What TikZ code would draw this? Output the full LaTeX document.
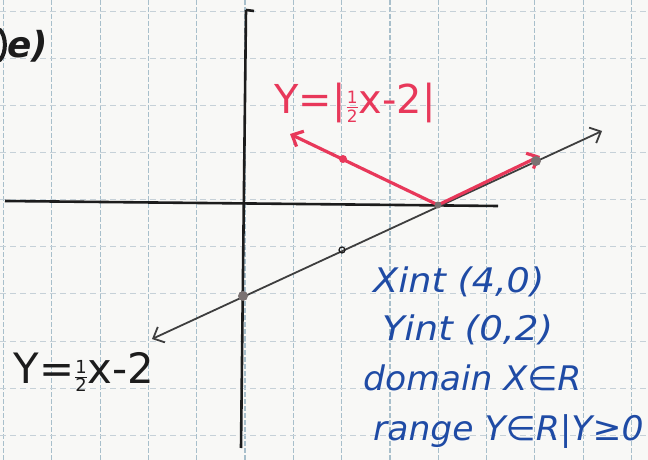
\documentclass[tikz,border=0pt]{standalone}
\usepackage{fontspec}
\setmainfont{DejaVu Sans}
\usetikzlibrary{arrows.meta}
\definecolor{ink}{HTML}{1C1C1C}
\definecolor{redink}{HTML}{E8385A}
\definecolor{blueink}{HTML}{1F4BA5}
\definecolor{gridv}{HTML}{A8BFCB}
\definecolor{gridh}{HTML}{C6D1D8}
\definecolor{paper}{HTML}{F8F8F6}
\definecolor{dotgray}{HTML}{7A7272}
\newcommand\myhalf[1]{$\frac{\mbox{\fontsize{#1}{#1}\selectfont 1}}{\mbox{\fontsize{#1}{#1}\selectfont 2}}$}
\begin{document}
\begin{tikzpicture}[x=1bp,y=-1bp,
  gridvl/.style={gridv,line width=1.2bp,dash pattern=on 5bp off 2bp},
  gridhl/.style={gridh,line width=1bp,dash pattern=on 6bp off 4bp},
  axis/.style={ink,line width=2.6bp},
  graph/.style={ink!85,line width=1.8bp},
  absgraph/.style={redink,line width=3.2bp},
  barb/.tip={Straight Barb[length=9bp,width=17bp]},
  bluetxt/.style={blueink,font=\fontsize{34}{36}\selectfont\itshape,anchor=west,inner sep=0},
  redtxt/.style={redink,font=\fontsize{40}{42}\selectfont,inner sep=0},
  blacktxt/.style={ink,font=\fontsize{42}{44}\selectfont,inner sep=0},
  graydot/.style={circle,fill=dotgray,inner sep=0,minimum size=#1},
  reddot/.style={circle,fill=redink,inner sep=0,minimum size=8bp},
  opendot/.style={circle,draw=ink,line width=1.2bp,inner sep=0,minimum size=6bp}
]
\useasboundingbox (0,0) rectangle (648,460);
\fill[paper] (0,0) rectangle (648,460);
\clip (0,0) rectangle (648,460);
% grid
\foreach \i in {0,...,13} \draw[gridvl] ({3.5+48.3*\i},0) -- ({3.5+48.3*\i},460);
\foreach \j in {0,...,9} \draw[gridhl] (0,{12+47*\j}) -- (648,{12+47*\j});
% axes
\coordinate (xl) at (5,201);
\coordinate (xr) at (498,206);
\coordinate (yt) at (246,10);
\coordinate (yb) at (241,448);
\draw[axis] (xl) -- (xr);
\draw[axis] (yt) -- (yb);
\draw[axis] (yt) -- ++(8,1);
% y = 1/2 x - 2
\coordinate (bl) at (152,339);
\coordinate (br) at (602,131);
\draw[graph,barb-barb] (bl) -- (br);
\node[opendot] (tick) at (342,250) {};
% y = |1/2 x - 2|
\coordinate (v) at (438,205);
\coordinate (rl) at (290,134);
\coordinate (rr) at (540,156);
\draw[absgraph,-barb] (v) -- (rl);
\draw[absgraph,-barb] (v) -- (rr);
\node[reddot] (rdot) at (343,159) {};
\node[graydot=10bp] (yint) at (243,296) {};
\node[graydot=7bp] (xint) at (438,205) {};
\node[graydot=10bp] (rdot2) at (536,161) {};
% labels
\node[redtxt] (rlab) at (355,103) {Y=|\myhalf{17}x-2|};
\node[blacktxt] (blab) at (84,372) {Y=\myhalf{18}x-2};
% fragment of the cut-off problem number
\draw[ink,line width=4bp,line cap=round] (0,30) .. controls (6,36) and (7,52) .. (0,60);
\node[ink,font=\fontsize{36}{38}\selectfont\bfseries\itshape,anchor=west,inner sep=0] (part) at (7,46) {e)};
\node[bluetxt] (t1) at (373,282) {\scalebox{1.08}[1]{Xint (4,0)}};
\node[bluetxt] (t2) at (382,330) {\scalebox{1.1}[1]{Yint (0,2)}};
\node[bluetxt] (t3) at (363,378) {\scalebox{1.02}[1]{domain X∈R}};
\node[bluetxt] (t4) at (373,432) {\scalebox{1.02}[1]{range Y∈R|Y≥0}};
\end{tikzpicture}
\end{document}
